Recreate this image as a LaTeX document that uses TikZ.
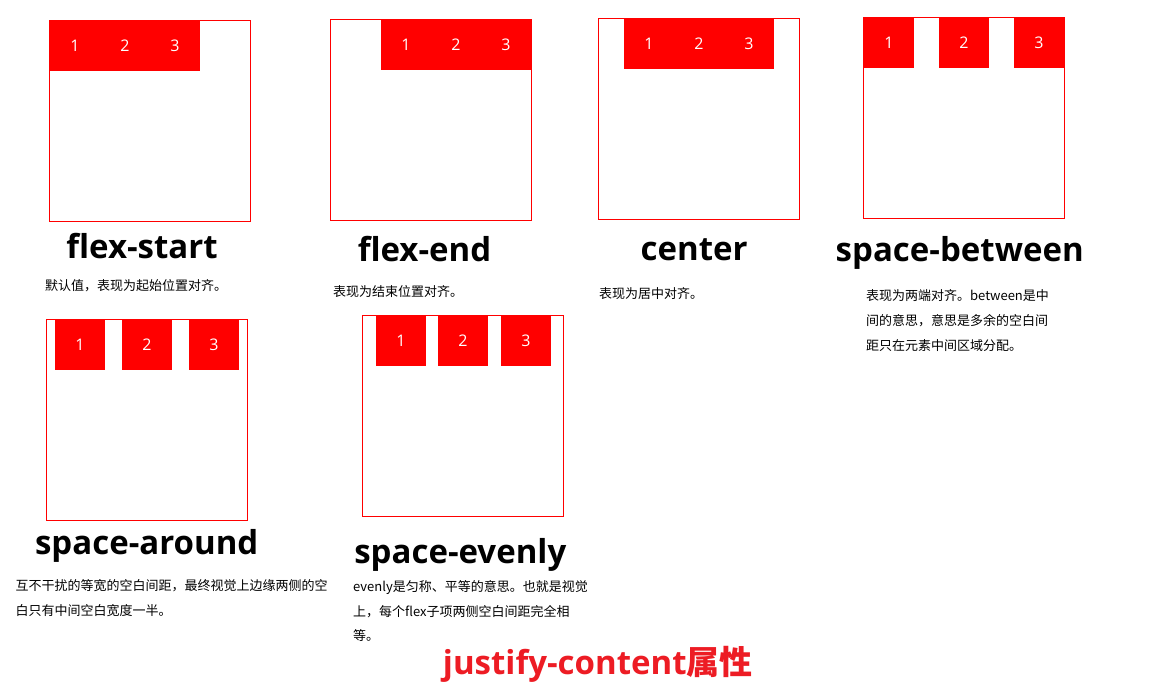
\documentclass[tikz,border=0pt]{standalone}
\usepackage{fontspec}
\setmainfont{Open Sans}
\newfontfamily\cjk{Noto Sans CJK SC}
\definecolor{titlered}{RGB}{237,28,36}

\begin{document}
\begin{tikzpicture}[x=1pt,y=-1pt,
    box/.style={draw=red,line width=1pt,minimum size=201pt,inner sep=0pt},
    item/.style={fill=red,minimum size=50pt,inner sep=0pt,text=white,
      font=\fontsize{16}{16}\selectfont},
    title/.style={anchor=base,inner sep=0pt,font=\bfseries\fontsize{33}{40}\selectfont},
    note/.style={anchor=base west,inner sep=0pt,font=\cjk\fontsize{13}{25}\selectfont}]

  \useasboundingbox[fill=white] (0,0) rectangle (1149,694);

  % flex-start
  \node[box] (start) at (150,121) {};
  \node[item] (start1) at (75,46) {1};
  \node[item] (start2) at (125,46) {2};
  \node[item] (start3) at (175,46) {3};
  \node[title] (startT) at (142,258) {flex-start};
  \node[note] (startN) at (45,290.5) {默认值，表现为起始位置对齐。};

  % flex-end
  \node[box] (end) at (431,120) {};
  \node[item] (end1) at (406,45) {1};
  \node[item] (end2) at (456,45) {2};
  \node[item] (end3) at (506,45) {3};
  \node[title] (endT) at (424.5,261) {flex-end};
  \node[note] (endN) at (333,296.2) {表现为结束位置对齐。};

  % center
  \node[box] (center) at (699,119) {};
  \node[item] (center1) at (649,44) {1};
  \node[item] (center2) at (699,44) {2};
  \node[item] (center3) at (749,44) {3};
  \node[title] (centerT) at (694.2,260) {center};
  \node[note] (centerN) at (599,298.5) {表现为居中对齐。};

  % space-between
  \node[box] (between) at (964,118) {};
  \node[item] (between1) at (889,43) {1};
  \node[item] (between2) at (964,43) {2};
  \node[item] (between3) at (1039,43) {3};
  \node[title] (betweenT) at (959.7,261.7) {space-between};
  \node[note] (betweenA) at (866,300.2) {表现为两端对齐。between是中};
  \node[note] (betweenB) at (866,325.2) {间的意思，意思是多余的空白间};
  \node[note] (betweenC) at (866,350.2) {距只在元素中间区域分配。};

  % space-around
  \node[box] (around) at (146.7,420) {};
  \node[item] (around1) at (80,345) {1};
  \node[item] (around2) at (147,345) {2};
  \node[item] (around3) at (214,345) {3};
  \node[title] (aroundT) at (146.7,554) {space-around};
  \node[note] (aroundA) at (15.5,590.2) {互不干扰的等宽的空白间距，最终视觉上边缘两侧的空};
  \node[note] (aroundB) at (15.5,615.2) {白只有中间空白宽度一半。};

  % space-evenly
  \node[box] (evenly) at (462.8,415.7) {};
  \node[item] (evenly1) at (401,341) {1};
  \node[item] (evenly2) at (463,341) {2};
  \node[item] (evenly3) at (526,341) {3};
  \node[title] (evenlyT) at (460.3,563.3) {space-evenly};
  \node[note] (evenlyA) at (353,591.2) {evenly是匀称、平等的意思。也就是视觉};
  \node[note] (evenlyB) at (353,616.2) {上，每个flex子项两侧空白间距完全相};
  \node[note] (evenlyC) at (353,640.7) {等。};

  \node[title,text=titlered] (heading) at (597.8,674) {justify-content{\cjk 属性}};
\end{tikzpicture}
\end{document}
